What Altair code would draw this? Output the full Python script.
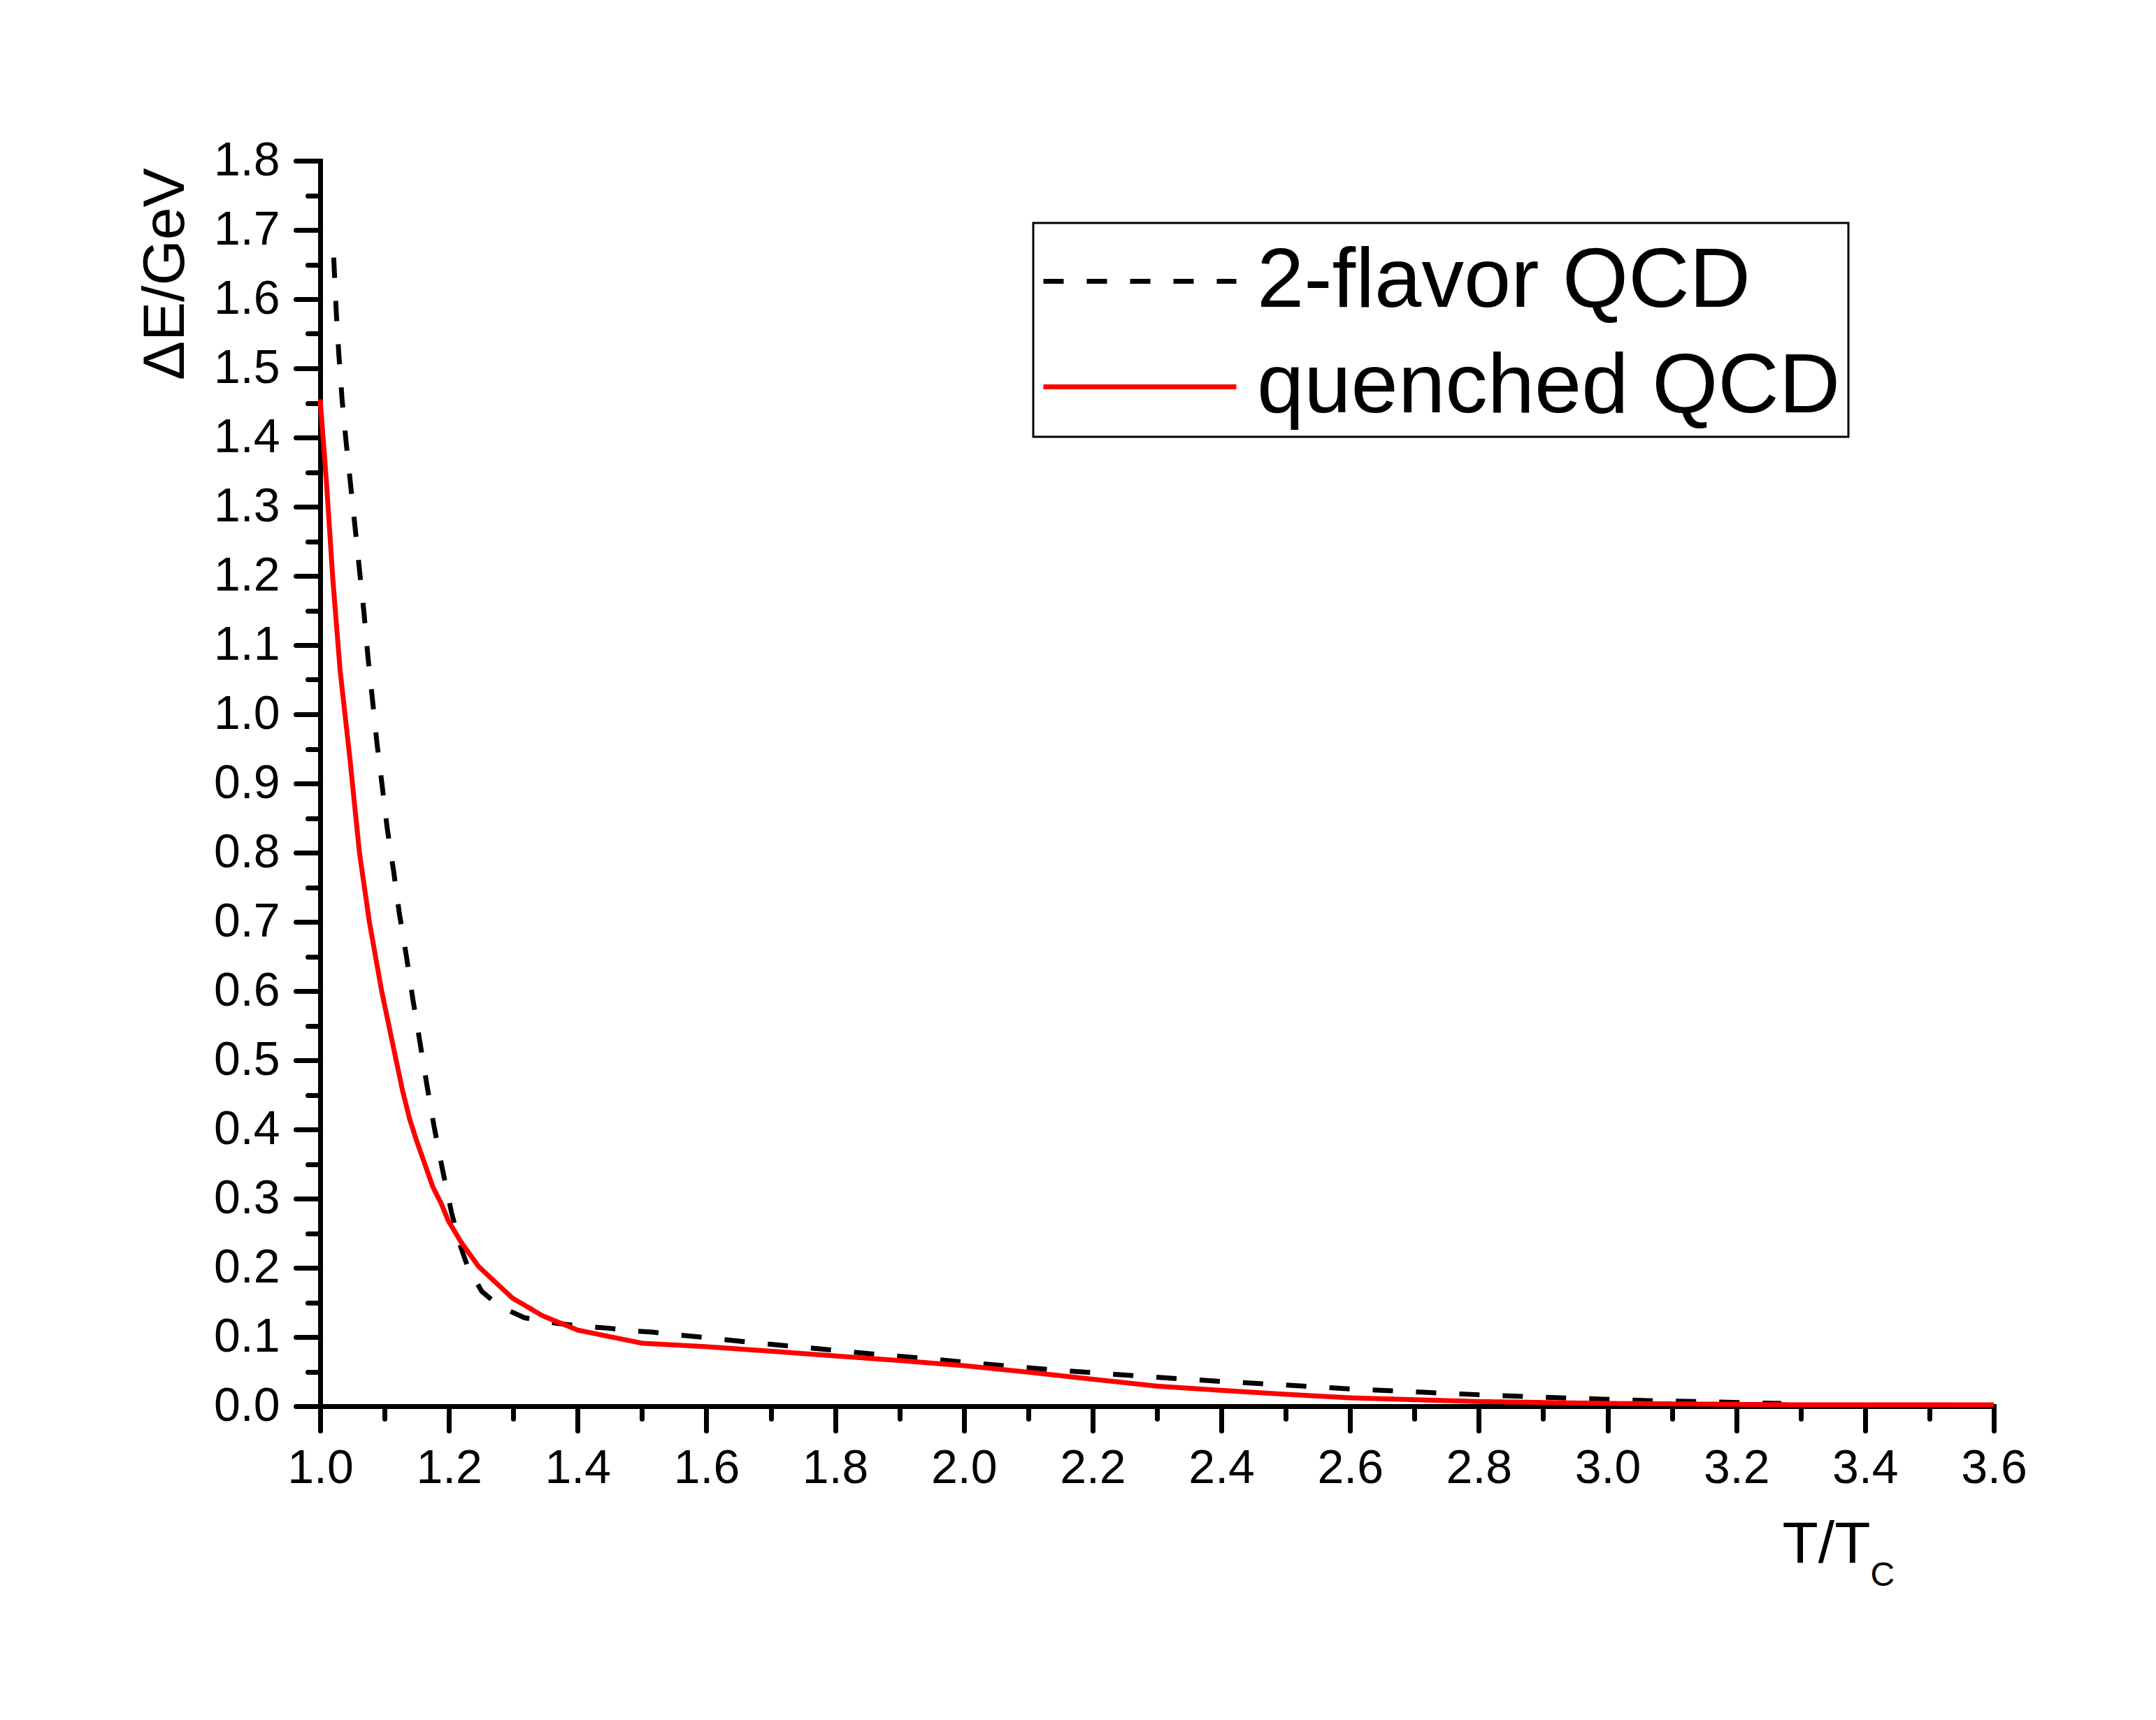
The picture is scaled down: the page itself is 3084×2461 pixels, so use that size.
import altair as alt
import pandas as pd

FONT = "Liberation Sans"

series_names = ["2-flavor QCD", "quenched QCD"]

# 2-flavor QCD (dashed black)
dash_x = [1.021, 1.025, 1.029, 1.034, 1.040, 1.047, 1.054, 1.061, 1.068, 1.074,
          1.081, 1.088, 1.096, 1.104, 1.114, 1.123, 1.134, 1.144, 1.155, 1.166,
          1.177, 1.190, 1.204, 1.218, 1.229, 1.251, 1.279, 1.317, 1.348, 1.384,
          1.415, 1.451, 1.482, 1.516, 1.545, 1.600, 1.666, 1.733, 1.800, 1.867,
          1.934, 2.000, 2.067, 2.134, 2.200, 2.268, 2.334, 2.402, 2.467, 2.537,
          2.601, 2.669, 2.735, 2.802, 2.870, 2.936, 3.003, 3.070, 3.136, 3.203,
          3.270]
dash_y = [1.660, 1.581, 1.520, 1.455, 1.396, 1.334, 1.272, 1.209, 1.147, 1.085,
          1.023, 0.960, 0.899, 0.836, 0.774, 0.712, 0.650, 0.588, 0.526, 0.463,
          0.404, 0.342, 0.280, 0.231, 0.202, 0.166, 0.144, 0.128, 0.122, 0.118,
          0.115, 0.1125, 0.109, 0.107, 0.104, 0.099, 0.0926, 0.0866, 0.0808, 0.0747,
          0.0694, 0.0636, 0.0583, 0.0529, 0.0485, 0.0438, 0.0397, 0.0357, 0.0323, 0.0286,
          0.0249, 0.0222, 0.0192, 0.0165, 0.0141, 0.0118, 0.0098, 0.0078, 0.0067, 0.0054,
          0.0040]

# quenched QCD (solid red)
red_x = [1.000, 1.010, 1.0195, 1.031, 1.0456, 1.061, 1.0764, 1.0955, 1.118, 1.128,
         1.139, 1.150, 1.161, 1.175, 1.188, 1.199, 1.219, 1.246, 1.262, 1.299,
         1.346, 1.400, 1.500, 1.600, 1.700, 1.800, 1.900, 2.000, 2.100, 2.200,
         2.300, 2.400, 2.500, 2.600, 2.700, 2.800, 2.900, 3.000, 3.100, 3.200,
         3.300, 3.400, 3.500, 3.600]
red_y = [1.455, 1.332, 1.197, 1.063, 0.941, 0.800, 0.700, 0.600, 0.500, 0.456,
         0.415, 0.383, 0.354, 0.317, 0.293, 0.268, 0.237, 0.202, 0.188, 0.156,
         0.1305, 0.110, 0.091, 0.086, 0.0795, 0.0727, 0.066, 0.0586, 0.0492, 0.039,
         0.029, 0.0229, 0.0172, 0.0121, 0.0094, 0.0067, 0.0054, 0.004, 0.0034, 0.0027,
         0.002, 0.002, 0.002, 0.002]

x_major = [1.0, 1.2, 1.4, 1.6, 1.8, 2.0, 2.2, 2.4, 2.6, 2.8, 3.0, 3.2, 3.4, 3.6]
x_minor = [1.1, 1.3, 1.5, 1.7, 1.9, 2.1, 2.3, 2.5, 2.7, 2.9, 3.1, 3.3, 3.5]
y_major = [0.0, 0.1, 0.2, 0.3, 0.4, 0.5, 0.6, 0.7, 0.8, 0.9,
           1.0, 1.1, 1.2, 1.3, 1.4, 1.5, 1.6, 1.7, 1.8]
y_minor = [0.05, 0.15, 0.25, 0.35, 0.45, 0.55, 0.65, 0.75, 0.85,
           0.95, 1.05, 1.15, 1.25, 1.35, 1.45, 1.55, 1.65, 1.75]

df = pd.DataFrame({
    "T": dash_x + red_x,
    "dE": dash_y + red_y,
    "series": [series_names[0]] * len(dash_x) + [series_names[1]] * len(red_x),
})

LW = 7

xs = alt.Scale(domain=[1.0, 3.6], nice=False, zero=False)
ys = alt.Scale(domain=[0.0, 1.8], nice=False, zero=False)
color_scale = alt.Scale(domain=series_names, range=["#000000", "#ff0000"])
dash_scale = alt.Scale(domain=series_names, range=[[29, 33], [1, 0]])

legend = alt.Legend(
    title=None, orient="none", legendX=1020, legendY=89, direction="vertical",
    symbolType="M-1,0H3", symbolSize=19044, symbolStrokeWidth=LW,
    labelFont=FONT, labelFontSize=121, labelColor="black", labelOffset=164,
    labelLimit=3000, rowPadding=18, padding=11, strokeColor="black",
    fillColor="white", labelBaseline="middle",
)

axis_common = dict(tickWidth=LW, tickColor="black", grid=False, labelFlush=False,
                   labelOverlap=False, tickCap="round")

x_axis_major = alt.Axis(
    values=x_major, format=".1f", orient="bottom", tickSize=35,
    domainWidth=LW, domainColor="black", domainCap="square",
    labelFont=FONT, labelFontSize=68, labelColor="black", labelPadding=20,
    title="T/T", titleFont=FONT, titleFontSize=84, titleFontWeight="normal",
    titleColor="black", titleX=2091, titleY=223, titleAlign="left",
    titleBaseline="alphabetic", titleAngle=0, **axis_common)
x_axis_minor = alt.Axis(
    values=x_minor, orient="bottom", tickSize=18, domain=False, labels=False,
    title="C", titleFont=FONT, titleFontSize=48, titleFontWeight="normal",
    titleColor="black", titleX=2217, titleY=256, titleAlign="left",
    titleBaseline="alphabetic", titleAngle=0, **axis_common)
y_axis_major = alt.Axis(
    values=y_major, format=".1f", orient="left", tickSize=35,
    domainWidth=LW, domainColor="black", domainCap="square",
    labelFont=FONT, labelFontSize=68, labelColor="black", labelPadding=23,
    title="ΔE/GeV", titleFont=FONT, titleFontSize=84, titleFontWeight="normal",
    titleColor="black", titleX=-196, titleY=10, titleAlign="right",
    titleBaseline="alphabetic", titleAngle=270, **axis_common)
y_axis_minor = alt.Axis(
    values=y_minor, orient="left", tickSize=18, domain=False, labels=False,
    title=None, **axis_common)

base = alt.Chart(df)

dashed = base.transform_filter(alt.datum.series == series_names[0]).mark_line(
    strokeWidth=LW
).encode(
    x=alt.X("T:Q", scale=xs, axis=x_axis_major),
    y=alt.Y("dE:Q", scale=ys, axis=y_axis_major),
    color=alt.Color("series:N", scale=color_scale, legend=legend),
    strokeDash=alt.StrokeDash("series:N", scale=dash_scale, legend=legend),
)

solid = base.transform_filter(alt.datum.series == series_names[1]).mark_line(
    strokeWidth=LW
).encode(
    x=alt.X("T:Q", scale=xs, axis=x_axis_minor),
    y=alt.Y("dE:Q", scale=ys, axis=y_axis_minor),
    color=alt.Color("series:N", scale=color_scale, legend=legend),
    strokeDash=alt.StrokeDash("series:N", scale=dash_scale, legend=legend),
)

chart = alt.layer(dashed, solid).resolve_axis(
    x="independent", y="independent"
).properties(
    width=2394, height=1782,
    autosize=alt.AutoSizeParams(type="none"),
    padding={"left": 450, "top": 222, "right": 220, "bottom": 430},
    background="white",
).configure_view(stroke="transparent").configure_legend(strokeWidth=3)

chart.save("out.html", embed_options={"renderer": "svg", "actions": False})
